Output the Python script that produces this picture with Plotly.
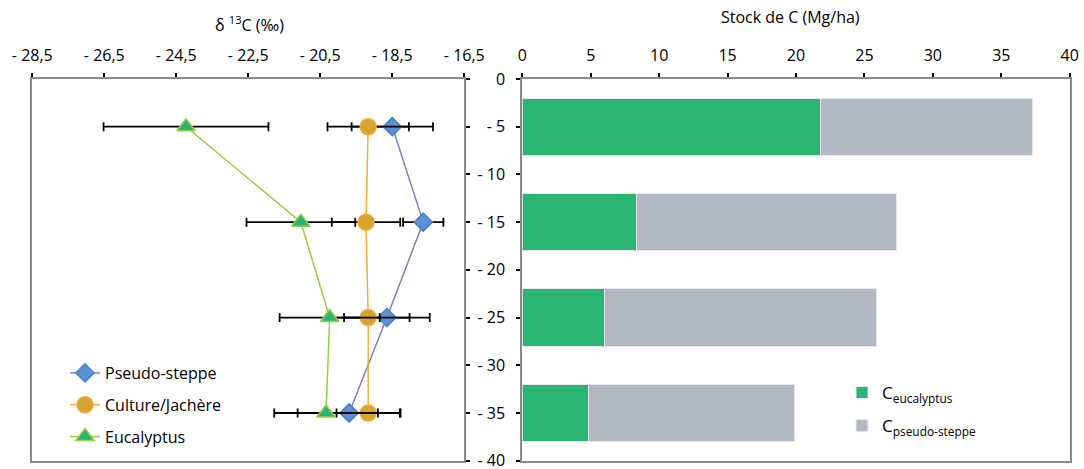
import plotly.graph_objects as go

W, H = 1084, 469

# ---------------- data ----------------
depths = [-5, -15, -25, -35]
depth_tickvals = [0, -5, -10, -15, -20, -25, -30, -35, -40]
depth_ticktext = ["0", "- 5", "- 10", "- 15", "- 20", "- 25", "- 30", "- 35", "- 40"]

d13c_tickvals = [-28.5, -26.5, -24.5, -22.5, -20.5, -18.5, -16.5]
d13c_ticktext = ["- 28,5", "- 26,5", "- 24,5", "- 22,5", "- 20,5", "- 18,5", "- 16,5"]

pseudo_steppe = [-18.50, -17.64, -18.65, -19.70]
pseudo_steppe_err = [1.13, 0.56, 1.19, 1.43]
culture_jachere = [-19.17, -19.23, -19.17, -19.17]
culture_jachere_err = [1.13, 0.95, 1.15, 0.88]
eucalyptus = [-24.23, -21.04, -20.24, -20.34]
eucalyptus_err = [2.29, 1.51, 1.39, 1.44]

stock_tickvals = [0, 5, 10, 15, 20, 25, 30, 35, 40]
c_eucalyptus = [21.76, 8.34, 5.98, 4.82]
c_pseudo_steppe = [15.54, 19.02, 19.87, 15.05]

# ---------------- helpers ----------------
def px_x(p):
    return p / W

def px_y(p):
    return 1 - p / H

FONT = "Open Sans"
AX = "#8a8a8a"

fig = go.Figure()

series = [
    ("Pseudo-steppe", pseudo_steppe, pseudo_steppe_err, "#7b7fc0", "#5b8fd6", "#4a7ec4", "diamond", 14),
    ("Culture/Jachère", culture_jachere, culture_jachere_err, "#f9a93a", "#d4a631", "#f7a535", "circle", 16),
    ("Eucalyptus", eucalyptus, eucalyptus_err, "#9bcb3e", "#28b473", "#9acd44", "triangle-up", 16),
]
for name, vals, errs, lc, fc, mlc, sym, size in series:
    fig.add_trace(go.Scatter(
        x=vals, y=depths, name=name, mode="lines+markers",
        line=dict(color=lc, width=1.5),
        marker=dict(symbol=sym, size=size, color=fc, line=dict(color=mlc, width=1.5)),
        error_x=dict(type="data", array=errs, visible=True, color="black",
                     thickness=1.8, width=4.5),
        xaxis="x", yaxis="y", legend="legend", legendgroup=name,
    ))

fig.add_trace(go.Bar(
    x=c_eucalyptus, y=depths, orientation="h", width=6,
    name="C<sub>eucalyptus</sub>",
    marker=dict(color="#2ab573", line=dict(color="#e6e9ee", width=1)),
    xaxis="x2", yaxis="y2", legend="legend2", legendgroup="ce",
))
fig.add_trace(go.Bar(
    x=c_pseudo_steppe, y=depths, orientation="h", width=6,
    name="C<sub>pseudo-steppe</sub>",
    marker=dict(color="#b3b9c4", line=dict(color="#e6e9ee", width=1)),
    xaxis="x2", yaxis="y2", legend="legend2", legendgroup="cp",
))

ydom = [px_y(460.7), px_y(79)]
common = dict(showline=True, linecolor=AX, linewidth=2, mirror=True,
              ticks="outside", ticklen=4, tickcolor="black", tickwidth=1.5,
              showgrid=False, zeroline=False, automargin=False,
              ticklabeloverflow="allow",
              tickfont=dict(family=FONT, size=16, color="black"))

fig.update_layout(
    template="none",
    width=W, height=H, margin=dict(l=0, r=0, t=0, b=0, autoexpand=False),
    paper_bgcolor="white", plot_bgcolor="white",
    barmode="stack",
    font=dict(family=FONT, size=16, color="black"),
    xaxis=dict(domain=[px_x(32.3), px_x(464.3)], range=[-28.5, -16.5], side="top",
               tickvals=d13c_tickvals, ticktext=d13c_ticktext, anchor="y",
               ticklabelstandoff=6, **common),
    yaxis=dict(domain=ydom, range=[-40, 0], side="right", anchor="x",
               tickvals=depth_tickvals, showticklabels=False, **common),
    xaxis2=dict(domain=[px_x(522.3), px_x(1069.7)], range=[0, 40], side="top",
                tickvals=stock_tickvals, anchor="y2", ticklabelstandoff=6, **common),
    yaxis2=dict(domain=ydom, range=[-40, 0], side="left", anchor="x2",
                tickvals=depth_tickvals, ticktext=depth_ticktext,
                ticklabelstandoff=8, **common),
    legend=dict(x=px_x(65), y=px_y(356), xanchor="left", yanchor="top",
                bgcolor="rgba(0,0,0,0)", font=dict(family=FONT, size=16),
                traceorder="grouped", tracegroupgap=8, itemclick=False),
    legend2=dict(x=px_x(842), y=px_y(375), xanchor="left", yanchor="top",
                 bgcolor="rgba(0,0,0,0)", font=dict(family=FONT, size=17),
                 traceorder="grouped", tracegroupgap=8),
    showlegend=True,
    annotations=[
        dict(text="δ <sup>13</sup>C (‰)", x=px_x(249), y=px_y(24), xref="paper", yref="paper",
             showarrow=False, font=dict(family=FONT, size=16), xanchor="center", yanchor="middle"),
        dict(text="Stock de C (Mg/ha)", x=px_x(790), y=px_y(17), xref="paper", yref="paper",
             showarrow=False, font=dict(family=FONT, size=16), xanchor="center", yanchor="middle"),
    ],
)

fig.write_html("out.html")
